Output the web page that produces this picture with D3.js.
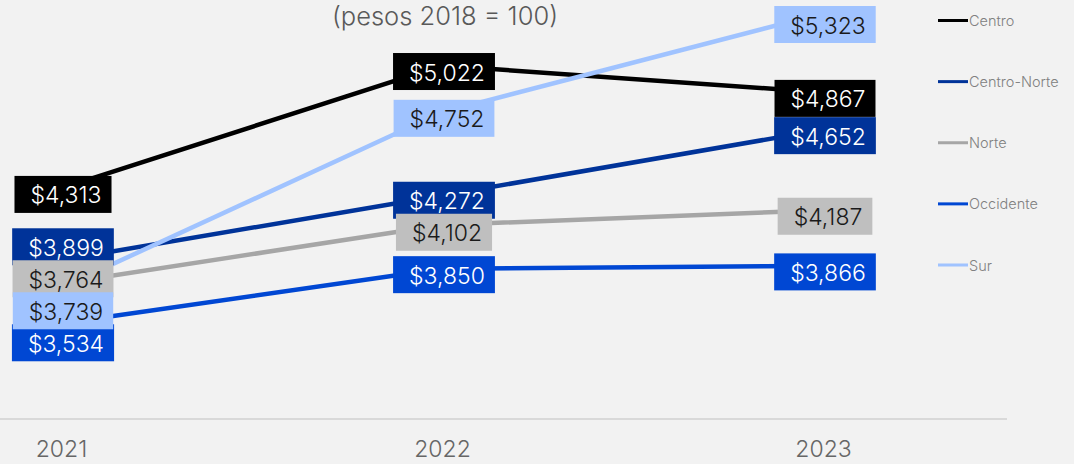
<!DOCTYPE html>
<html>
<head>
<meta charset="utf-8">
<script src="https://cdn.jsdelivr.net/npm/d3@7"></script>
<style>
  html, body { margin: 0; padding: 0; background: #F2F2F2; }
  svg { display: block; font-family: Inter, "Noto Sans", sans-serif; }
</style>
</head>
<body>
<svg id="chart" width="1074" height="464"></svg>
<script>
// ---- data ----
const years = ["2021", "2022", "2023"];
const seriesNames = ["Centro", "Centro-Norte", "Norte", "Occidente", "Sur"];
const centro = [4313, 5022, 4867];
const centroNorte = [3899, 4272, 4652];
const norte = [3764, 4102, 4187];
const occidente = [3534, 3850, 3866];
const sur = [3739, 4752, 5323];
const subtitle = "(pesos 2018 = 100)";

// ---- styles ----
const lineColors = ["#000000", "#003399", "#A6A6A6", "#0047D3", "#A0C3FF"];
const boxColors  = ["#000000", "#003399", "#BFBFBF", "#0047D3", "#A0C3FF"];
const textColors = ["#FFFFFF", "#FFFFFF", "#1A1A1A", "#FFFFFF", "#1A1A1A"];

const seriesValues = [centro, centroNorte, norte, occidente, sur];
const data = seriesNames.map((name, i) => ({
  name, i,
  values: years.map((yr, j) => ({ year: yr, value: seriesValues[i][j] }))
}));

const svg = d3.select("#chart");
const plotBottom = 419;

const x = d3.scalePoint().domain(years).range([61, 823]);
const y = d3.scaleLinear().domain([3000, 5400]).range([plotBottom - 3, 0]);

// subtitle
svg.append("text")
  .attr("x", 445).attr("y", 25)
  .attr("text-anchor", "middle")
  .attr("font-size", 25.5)
  .attr("font-weight", 300)
  .attr("fill", "#595959")
  .text(subtitle);

// x axis
const xAxis = d3.axisBottom(x).tickSize(0).tickPadding(22);
const gx = svg.append("g").attr("transform", `translate(0,${plotBottom})`).call(xAxis);
gx.select(".domain").remove();
gx.append("line").attr("x1", 0).attr("x2", 1007).attr("y1", 0).attr("y2", 0)
  .attr("stroke", "#D9D9D9").attr("stroke-width", 2);
gx.selectAll(".tick text")
  .attr("font-size", 23)
  .attr("font-weight", 300)
  .attr("font-family", "Inter, 'Noto Sans', sans-serif")
  .attr("fill", "#666666");

// lines
const line = d3.line().x(d => x(d.year)).y(d => y(d.value));
svg.append("g").selectAll("path").data(data).join("path")
  .attr("d", d => line(d.values))
  .attr("fill", "none")
  .attr("stroke", d => lineColors[d.i])
  .attr("stroke-width", 4.5)
  .attr("stroke-linejoin", "round");

// labels: place near point, then resolve vertical overlaps per year
const boxH = 37, gap = 32, bias = 6, topMin = 6 + boxH / 2;
const labels = [];
years.forEach((yr, j) => {
  const col = data.map(s => ({ s, value: s.values[j].value, year: yr, cy: y(s.values[j].value) + bias }));
  col.sort((a, b) => a.cy - b.cy);
  for (let it = 0; it < 300; it++) {
    for (let k = 0; k < col.length - 1; k++) {
      const a = col[k], b = col[k + 1];
      const ov = gap - (b.cy - a.cy);
      if (ov > 0) { a.cy -= ov / 2; b.cy += ov / 2; }
    }
    col.forEach(l => { if (l.cy < topMin) l.cy = topMin; });
  }
  labels.push(...col);
});
labels.sort((a, b) => a.s.i - b.s.i);

const fmt = d3.format("$,");
const lg = svg.append("g");
labels.forEach(l => {
  const g = lg.append("g");
  const rect = g.append("rect");
  const t = g.append("text")
    .attr("font-size", 23)
    .attr("font-weight", 300)
    .attr("fill", textColors[l.s.i])
    .attr("dominant-baseline", "central")
    .text(fmt(l.value));
  const tw = t.node().getComputedTextLength();
  const padL = 16, padR = 10;
  const bw = tw + padL + padR;
  const bx = x(l.year) - bw / 2 + 2;
  rect.attr("x", bx).attr("y", l.cy - boxH / 2).attr("width", bw).attr("height", boxH)
    .attr("fill", boxColors[l.s.i]);
  t.attr("x", bx + padL).attr("y", l.cy + 1);
});

// legend
const legY = d3.scalePoint().domain(seriesNames).range([20.5, 265]);
const leg = svg.append("g").selectAll("g").data(data).join("g")
  .attr("transform", d => `translate(938,${legY(d.name)})`);
leg.append("line").attr("x1", 0).attr("x2", 30).attr("y1", 0).attr("y2", 0)
  .attr("stroke", d => lineColors[d.i]).attr("stroke-width", 3);
leg.append("text").attr("x", 31).attr("y", 0)
  .attr("dominant-baseline", "central")
  .attr("font-size", 14.5).attr("font-weight", 300).attr("fill", "#808080")
  .text(d => d.name);
</script>
</body>
</html>
